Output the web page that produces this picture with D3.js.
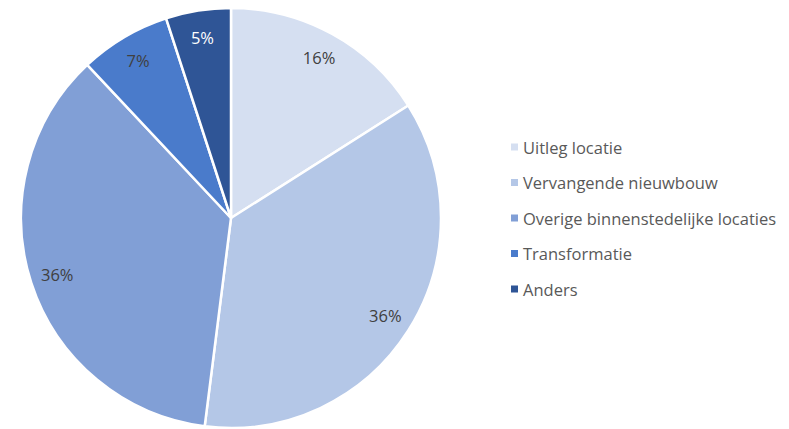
<!DOCTYPE html>
<html>
<head>
<meta charset="utf-8">
<script src="https://cdn.jsdelivr.net/npm/d3@7/dist/d3.min.js"></script>
<style>
  html, body { margin: 0; padding: 0; background: #fff; }
  svg { display: block; }
</style>
</head>
<body>
<svg id="chart" width="789" height="429"></svg>
<script>
// Woningbouw naar type locatie (aandeel in procenten)
const categories = [
  "Uitleg locatie",
  "Vervangende nieuwbouw",
  "Overige binnenstedelijke locaties",
  "Transformatie",
  "Anders"
];
const values = [16, 36, 36, 7, 5];
const colors = ["#D5DFF1", "#B4C7E7", "#819FD6", "#4A7BCB", "#2F5596"];
const labelColors = ["#404040", "#404040", "#404040", "#404040", "#FFFFFF"];

const svg = d3.select("#chart");
const cx = 231, cy = 218, radius = 210;
const fontFamily = "'Open Sans', 'Liberation Sans', sans-serif";

const data = categories.map((c, i) => ({ name: c, value: values[i], color: colors[i], label: labelColors[i] }));

const pie = d3.pie().value(d => d.value).sort(null);
const arcs = pie(data);

const arc = d3.arc().innerRadius(0).outerRadius(radius);
const labelArc = d3.arc().innerRadius(radius * 0.87).outerRadius(radius * 0.87);

const g = svg.append("g").attr("transform", `translate(${cx},${cy})`);

g.selectAll("path.slice")
  .data(arcs)
  .join("path")
  .attr("class", "slice")
  .attr("d", arc)
  .attr("fill", d => d.data.color)
  .attr("stroke", "#FFFFFF")
  .attr("stroke-width", 2.5)
  .attr("stroke-linejoin", "round");

g.selectAll("text.pct")
  .data(arcs)
  .join("text")
  .attr("class", "pct")
  .attr("transform", d => `translate(${labelArc.centroid(d)})`)
  .attr("text-anchor", "middle")
  .attr("dominant-baseline", "central")
  .attr("font-family", fontFamily)
  .attr("font-size", 16.5)
  .attr("fill", d => d.data.label)
  .text(d => d.data.value + "%");

// Legend
const legendX = 511, legendY = 147, legendStep = 35.5;
const legend = svg.append("g");
const rows = legend.selectAll("g.row")
  .data(data)
  .join("g")
  .attr("class", "row")
  .attr("transform", (d, i) => `translate(${legendX},${legendY + i * legendStep})`);

rows.append("rect")
  .attr("x", 0).attr("y", -3.5)
  .attr("width", 7).attr("height", 7)
  .attr("fill", d => d.color);

rows.append("text")
  .attr("x", 12)
  .attr("y", 0)
  .attr("dominant-baseline", "central")
  .attr("font-family", fontFamily)
  .attr("font-size", 16.5)
  .attr("fill", "#595959")
  .text(d => d.name);
</script>
</body>
</html>
